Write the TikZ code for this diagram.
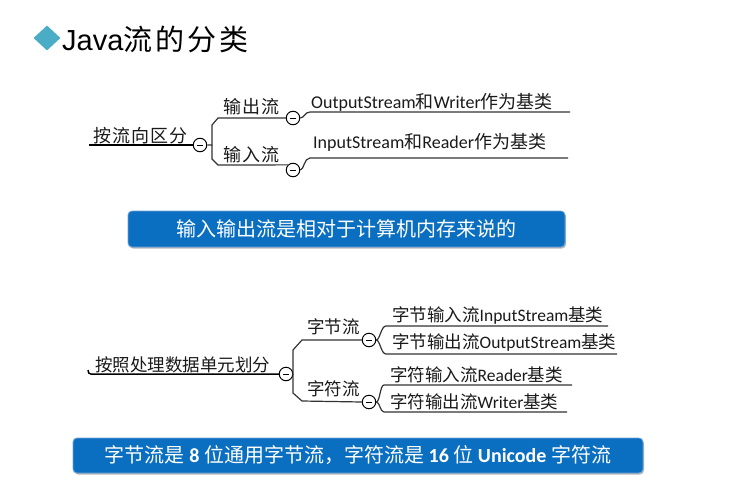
\documentclass[tikz,border=0pt]{standalone}
\usepackage{fontspec}
\setmainfont{Carlito}
\newfontfamily\titlefont{Liberation Sans}
\newfontfamily\zhf{Noto Sans CJK SC}
\newfontfamily\zhtitle[LetterSpace=10]{Noto Sans CJK SC}
\newfontfamily\zhw[LetterSpace=6]{Noto Sans CJK SC}
\newcommand\zh[1]{{\zhf #1}}
\usetikzlibrary{shapes.geometric,shadows}
\definecolor{txtc}{HTML}{1A1A1A}
\definecolor{linec}{HTML}{333333}
\definecolor{diam}{HTML}{4BACC6}
\definecolor{boxblue}{HTML}{0B6FC1}
\definecolor{boxedge}{HTML}{6FA3D6}
\begin{document}
\begin{tikzpicture}[x=1pt,y=-1pt,
  txt/.style={inner sep=0pt, anchor=base west, text=txtc},
  coll/.style={circle, draw=black, fill=white, line width=1pt, minimum size=13.5pt, inner sep=0pt,
    path picture={\draw[line width=1pt] ([xshift=-3.2pt]path picture bounding box.center) -- ([xshift=3.2pt]path picture bounding box.center);}},
  branch/.style={draw=linec, line width=1.2pt},
  mainline/.style={draw=black, line width=1.5pt},
  bluebox/.style={rounded corners=4pt, fill=boxblue, draw=boxedge, line width=0.8pt, text=white,
    drop shadow={shadow xshift=1pt, shadow yshift=-1.5pt, fill=gray!55, opacity=1}, inner sep=0pt}
]
\useasboundingbox (0,0) rectangle (736,485);
\fill[white] (0,0) rectangle (736,485);

% title
\node[diamond, aspect=1.1, fill=diam, minimum width=27pt, minimum height=25pt, inner sep=0pt] (dia) at (47,38) {};
\node[txt, text=black, font=\titlefont\fontsize{29}{31}\selectfont] (title) at (62,50) {Java{\zhtitle 流的分类}};

% top tree
\node[txt, font=\zhw\fontsize{18}{20}\selectfont] (r1) at (93,142) {按流向区分};
\coordinate (r1s) at (89,145);
\node[coll] (c0) at (200,145) {};
\draw[mainline] (r1s) -- (c0.west);
\node[coll] (c1) at (293,118) {};
\node[coll] (c2) at (293,170) {};
\draw[branch] (c0.east) -- (212,145) -- (212,125) -- (218,118) -- (c1.west);
\draw[branch] (212,145) -- (212,159) -- (218,165) -- (c2.north west);
\node[txt, font=\zhw\fontsize{18}{20}\selectfont] (l1) at (223,113) {输出流};
\node[txt, font=\zhw\fontsize{18}{20}\selectfont] (l2) at (223,161) {输入流};

\node[txt, font=\fontsize{18}{20}\selectfont] (t1) at (311,108) {OutputStream\zh{和}Writer\zh{作为基类}};
\coordinate (t1a) at (310,112); \coordinate (t1b) at (570,112);
\draw[branch] (c1.east) .. controls (304,118) and (305,112) .. (t1a) -- (t1b);
\node[txt, font=\fontsize{18}{20}\selectfont] (t2) at (313,148) {InputStream\zh{和}Reader\zh{作为基类}};
\coordinate (t2a) at (310,158); \coordinate (t2b) at (568,158);
\draw[branch] (c2.east) .. controls (304,170) and (304,158) .. (t2a) -- (t2b);

% box 1
\node[bluebox, minimum width=437pt, minimum height=36pt, font=\zhf\fontsize{20}{22}\selectfont] (b1) at (346.5,229) {输入输出流是相对于计算机内存来说的};

% lower tree
\node[txt, font=\zhf\fontsize{17.5}{20}\selectfont] (r2) at (95,371) {按照处理数据单元划分};
\coordinate (r2s) at (88,370);
\node[coll] (c3) at (286,374) {};
\draw[mainline] (r2s) .. controls (88,373) and (89,374) .. (91,374) -- (c3.west);
\node[coll] (c4) at (369,340) {};
\node[coll] (c5) at (369,402) {};
\draw[branch] (c3.east) -- (293,374) -- (293,350) -- (302,340) -- (c4.west);
\draw[branch] (293,374) -- (293,393) -- (302,401) -- (c5.west);
\node[txt, font=\zhf\fontsize{17.5}{20}\selectfont] (l3) at (307,333) {字节流};
\node[txt, font=\zhf\fontsize{17.5}{20}\selectfont] (l4) at (307,395) {字符流};

\node[txt, font=\fontsize{17.5}{20}\selectfont] (t3) at (392,321) {\zh{字节输入流}InputStream\zh{基类}};
\coordinate (t3a) at (386,326); \coordinate (t3b) at (608,326);
\draw[branch] (c4.east) .. controls (380,340) and (381,326) .. (t3a) -- (t3b);
\node[txt, font=\fontsize{17.5}{20}\selectfont] (t4) at (392,348) {\zh{字节输出流}OutputStream\zh{基类}};
\coordinate (t4a) at (386,354); \coordinate (t4b) at (617,354);
\draw[branch] (c4.east) .. controls (380,340) and (381,354) .. (t4a) -- (t4b);
\node[txt, font=\fontsize{17.5}{20}\selectfont] (t5) at (390,381) {\zh{字符输入流}Reader\zh{基类}};
\coordinate (t5a) at (384,385); \coordinate (t5b) at (572,385);
\draw[branch] (c5.east) .. controls (380,402) and (380,385) .. (t5a) -- (t5b);
\node[txt, font=\fontsize{17.5}{20}\selectfont] (t6) at (390,408) {\zh{字符输出流}Writer\zh{基类}};
\coordinate (t6a) at (384,412); \coordinate (t6b) at (567,412);
\draw[branch] (c5.east) .. controls (380,402) and (380,412) .. (t6a) -- (t6b);

% box 2
\node[bluebox, minimum width=570pt, minimum height=35pt, font=\fontsize{20}{22}\selectfont] (b2) at (358,455.5)
  {\zh{字节流是} \textbf{8} \zh{位通用字节流，字符流是} \textbf{16} \zh{位} \textbf{Unicode} \zh{字符流}};
\end{tikzpicture}
\end{document}
